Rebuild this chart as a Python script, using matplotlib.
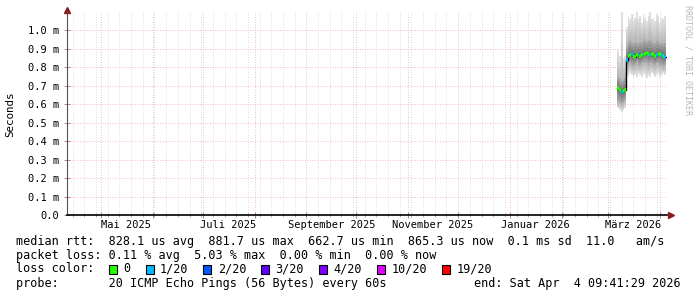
import datetime as dt
import numpy as np
import matplotlib
matplotlib.use('Agg')
import matplotlib.pyplot as plt
import matplotlib.dates as mdates
from matplotlib.patches import Rectangle

# ---- data (seconds are shown in ms: "m") ----
first_day = dt.datetime(2026, 3, 6, 12)   # first column with data, one column per day
median_ms = [0.69, 0.675, 0.665, 0.67, 0.68,
             0.84, 0.86, 0.865, 0.87, 0.86, 0.855, 0.865, 0.87, 0.86, 0.865, 0.875, 0.87,
             0.88, 0.87, 0.865, 0.875, 0.87, 0.86, 0.865, 0.87, 0.875, 0.865, 0.86, 0.855]
loss_idx = [0, 0, 1, 0, 0,
            1, 0, 0, 1, 0, 0, 0, 1, 0, 0, 1, 0, 0, 0, 1, 0, 0, 0, 1, 0, 0, 1, 0, 1]
smoke_max = [0.90, 0.86, 1.10, 0.85, 0.86,
             1.02, 1.08, 1.06, 1.09, 1.05, 1.07, 1.10, 1.06, 1.08, 1.04, 1.09, 1.07,
             1.05, 1.08, 1.10, 1.06, 1.07, 1.05, 1.09, 1.08, 1.04, 1.07, 1.06, 1.08]
smoke_min = [0.58, 0.57, 0.56, 0.57, 0.58,
             0.76, 0.75, 0.77, 0.76, 0.74, 0.76, 0.75, 0.77, 0.76, 0.75, 0.77, 0.76,
             0.74, 0.76, 0.75, 0.77, 0.76, 0.75, 0.76, 0.77, 0.75, 0.76, 0.77, 0.76]
core_lo = [0.60, 0.60, 0.59, 0.60, 0.61,
           0.80, 0.80, 0.81, 0.80, 0.79, 0.80, 0.81, 0.80, 0.80, 0.81, 0.81, 0.82,
           0.81, 0.80, 0.81, 0.81, 0.80, 0.80, 0.81, 0.81, 0.80, 0.80, 0.79, 0.80]
core_hi = [0.76, 0.75, 0.74, 0.75, 0.76,
           0.93, 0.95, 0.96, 0.95, 0.94, 0.96, 0.95, 0.94, 0.96, 0.95, 0.97, 0.96,
           0.95, 0.96, 0.97, 0.95, 0.94, 0.95, 0.96, 0.96, 0.94, 0.95, 0.94, 0.95]

loss_labels = ['0', '1/20', '2/20', '3/20', '4/20', '10/20', '19/20']
loss_colors = ['#26ff00', '#00b8ff', '#0059ff', '#5e00ff', '#7e00ff', '#dd00ff', '#ff0000']

y_ticks = [0.0, 0.1, 0.2, 0.3, 0.4, 0.5, 0.6, 0.7, 0.8, 0.9, 1.0]
y_labels = ['0.0', '0.1 m', '0.2 m', '0.3 m', '0.4 m', '0.5 m', '0.6 m',
            '0.7 m', '0.8 m', '0.9 m', '1.0 m']
month_labels = ['Mai 2025', 'Juli 2025', 'September 2025', 'November 2025',
                'Januar 2026', 'März 2026']
month_label_dates = [dt.datetime(2025, 5, 16), dt.datetime(2025, 7, 16), dt.datetime(2025, 9, 16),
                     dt.datetime(2025, 11, 16), dt.datetime(2026, 1, 16), dt.datetime(2026, 3, 16)]

legend_rtt = 'median rtt:  828.1 us avg  881.7 us max  662.7 us min  865.3 us now  0.1 ms sd  11.0   am/s'
legend_loss = 'packet loss: 0.11 % avg  5.03 % max  0.00 % min  0.00 % now'
legend_probe = 'probe:       20 ICMP Echo Pings (56 Bytes) every 60s'
legend_end = 'end: Sat Apr  4 09:41:29 2026'

x_start = dt.datetime(2025, 4, 10, 14)
x_end = dt.datetime(2026, 4, 5, 4)

# ---- figure ----
W, H = 697, 297
fig = plt.figure(figsize=(W / 100, H / 100), dpi=100)
fig.patch.set_facecolor('white')
ax = fig.add_axes([67 / W, 82 / H, 600 / W, 203 / H])

mono = 'DejaVu Sans Mono'
n = len(median_ms)
t = mdates.date2num([first_day + dt.timedelta(days=i) for i in range(n + 1)])

def step(v):
    return np.append(v, v[-1])

smin, smax = np.array(smoke_min), np.array(smoke_max)
clo, chi = np.array(core_lo), np.array(core_hi)
med = np.array(median_ms)

# smoke: light outer envelope shading to darker core
n_layers = 7
for k in range(n_layers):
    f = k / (n_layers - 1)
    lo = smin + (clo - smin) * f
    hi = smax + (chi - smax) * f
    g = 0.88 - 0.16 * f
    ax.fill_between(t, step(lo), step(hi), step='post', color=(g, g, g), lw=0, zorder=2)
for k in range(4):
    f = (k + 1) / 5
    lo = clo + (med - clo) * f
    hi = chi + (med - chi) * f
    g = 0.64 - 0.06 * k
    ax.fill_between(t, step(lo), step(hi), step='post', color=(g, g, g), lw=0, zorder=2)

# median line, coloured by loss
ax.plot(t, step(med), drawstyle='steps-post', color='black', lw=1.0, zorder=3)
for i in range(n):
    ax.hlines(med[i], t[i], t[i + 1], color=loss_colors[loss_idx[i]], lw=2.6, zorder=4)

# axes
ax.set_xlim(mdates.date2num(x_start), mdates.date2num(x_end))
ax.set_ylim(0, 1.1)
ax.xaxis.set_major_locator(mdates.MonthLocator())
ax.xaxis.set_minor_locator(mdates.WeekdayLocator(byweekday=mdates.MO))
ax.xaxis.set_major_formatter(plt.NullFormatter())
ax.set_yticks(y_ticks)
ax.set_yticklabels(y_labels, family=mono, fontsize=7.5)
ax.grid(which='major', axis='both', color='#f2a8a8', ls=(0, (1, 2)), lw=0.6, zorder=1)
ax.grid(which='minor', axis='x', color='#d4d4d4', ls=(0, (1, 2)), lw=0.6, zorder=1)
ax.tick_params(axis='x', which='major', direction='inout', length=5, width=0.7, color='#c08080')
ax.tick_params(axis='x', which='minor', direction='inout', length=3, width=0.7, color='#b0b0b0')
ax.tick_params(axis='y', which='major', direction='inout', length=5, width=0.7, color='#c08080', pad=3)
for s in ['top', 'right']:
    ax.spines[s].set_visible(False)
ax.spines['bottom'].set_linewidth(1.2)
ax.spines['left'].set_linewidth(0.8)
ax.spines['left'].set_color('#555555')
ax.plot([1.006], [0], marker='>', ms=4, color='#8b1a1a', transform=ax.transAxes, clip_on=False)
ax.plot([0], [1.01], marker='^', ms=4, color='#8b1a1a', transform=ax.transAxes, clip_on=False)

for lab, d in zip(month_labels, month_label_dates):
    ax.text(mdates.date2num(d), -0.05, lab, transform=ax.get_xaxis_transform(),
            ha='center', va='center', family=mono, fontsize=7.5)

fig.text(10 / W, 1 - 114 / H, 'Seconds', rotation=90, ha='center', va='center',
         family=mono, fontsize=7.8)
fig.text(688 / W, 1 - 5 / H, 'RRDTOOL / TOBI OETIKER', rotation=-90, ha='center', va='top',
         family=mono, fontsize=6, color='#b8b8b8')

# legend block
cw = 7.1
fs = 8.5
fig.text(16 / W, 1 - 241 / H, legend_rtt, family=mono, fontsize=fs, va='center')
fig.text(16 / W, 1 - 255 / H, legend_loss, family=mono, fontsize=fs, va='center')
fig.text(16 / W, 1 - 269 / H, 'loss color:', family=mono, fontsize=fs, va='center')
fig.text(16 / W, 1 - 283 / H, legend_probe, family=mono, fontsize=fs, va='center')
fig.text(681 / W, 1 - 283 / H, legend_end, family=mono, fontsize=fs, va='center', ha='right')

x = 109.0
for lab, col in zip(loss_labels, loss_colors):
    fig.patches.append(Rectangle((x / W, 1 - 273.5 / H), 8 / W, 9 / H, facecolor=col,
                                 edgecolor='black', lw=0.8, transform=fig.transFigure))
    lx = x + 2 * cw
    fig.text(lx / W, 1 - 269 / H, lab, family=mono, fontsize=fs, va='center')
    x = lx + len(lab) * cw + 2.15 * cw

fig.savefig('out.png', dpi=100)
